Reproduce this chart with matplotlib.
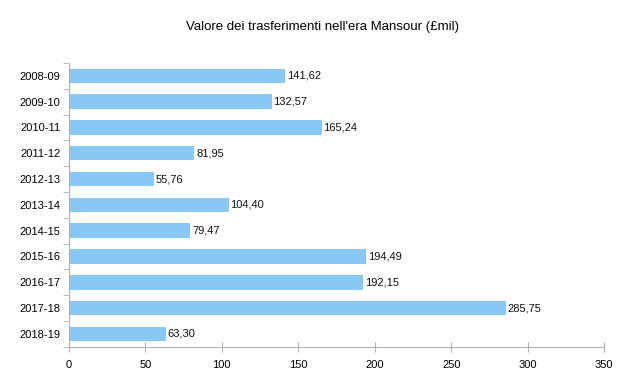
import matplotlib.pyplot as plt
from matplotlib.ticker import FixedLocator

plt.rcParams['font.family'] = ['Liberation Sans Narrow', 'Liberation Sans', 'DejaVu Sans']

# Data
seasons = ['2008-09', '2009-10', '2010-11', '2011-12', '2012-13', '2013-14',
           '2014-15', '2015-16', '2016-17', '2017-18', '2018-19']
values = [141.62, 132.57, 165.24, 81.95, 55.76, 104.40,
          79.47, 194.49, 192.15, 285.75, 63.30]
xticks = [0, 50, 100, 150, 200, 250, 300, 350]

fig = plt.figure(figsize=(6.38, 3.91), dpi=100)
ax = fig.add_axes([0.108, 0.113, 0.839, 0.726])

ypos = list(range(len(seasons)))
ax.barh(ypos, values, height=0.56, color='#87c8f5')
for y, v in zip(ypos, values):
    ax.text(v + 1.2, y, ('%.2f' % v).replace('.', ','), va='center', ha='left',
            fontsize=8, color='#111111')

ax.set_ylim(len(seasons) - 0.5, -0.5)
ax.set_xlim(0, 350)
ax.set_yticks(ypos)
ax.set_yticklabels(seasons, fontsize=8)
ax.yaxis.set_minor_locator(FixedLocator([y + 0.5 for y in range(-1, len(seasons))]))
ax.tick_params(axis='y', which='major', length=0, pad=6)
ax.tick_params(axis='y', which='minor', length=4, color='#b0b0b0', direction='out')
ax.set_xticks(xticks)
ax.set_xticklabels([str(t) for t in xticks], fontsize=8)
ax.tick_params(axis='x', length=7, color='#b0b0b0', direction='inout', pad=6)

for s in ['top', 'right']:
    ax.spines[s].set_visible(False)
for s in ['left', 'bottom']:
    ax.spines[s].set_color('#b0b0b0')

fig.text(0.505, 0.93, "Valore dei trasferimenti nell'era Mansour (£mil)",
         ha='center', va='center', fontsize=9.5)

fig.savefig('out.png', dpi=100)
